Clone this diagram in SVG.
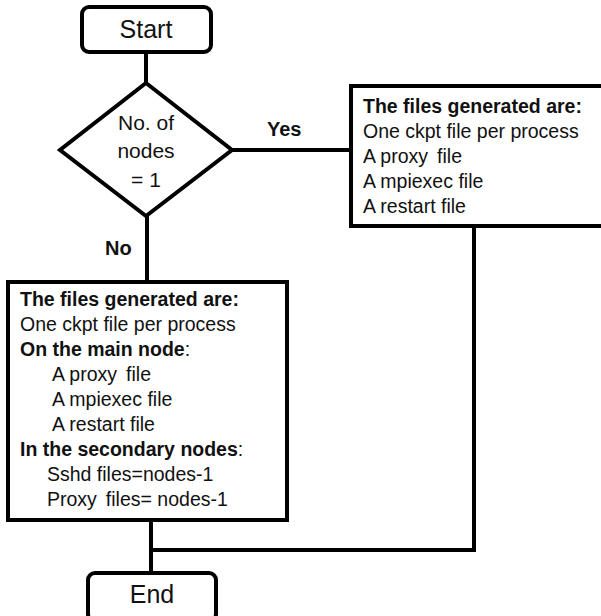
<svg xmlns="http://www.w3.org/2000/svg" width="601" height="616" viewBox="0 0 601 616">
<style>
.s{fill:#fff;stroke:#000;stroke-width:4}
.c{fill:none;stroke:#000;stroke-width:4}
text{font-family:"Liberation Sans",Arial,sans-serif;fill:#111}
.t{font-size:19.5px}
.b{font-weight:bold}
.d{font-size:21px;text-anchor:middle}
</style>
<rect width="601" height="616" fill="#fff"/>
<g id="connectors">
<line class="c" x1="146" y1="52" x2="146" y2="84"/>
<line class="c" x1="232" y1="150" x2="351" y2="150"/>
<line class="c" x1="147" y1="216" x2="147" y2="282"/>
<polyline class="c" points="474,226 474,550 151,550"/>
<line class="c" x1="151" y1="520" x2="151" y2="573"/>
<text class="b" x="267" y="136" style="font-size:20px">Yes</text>
<text class="b" x="105" y="255" style="font-size:20px">No</text>
</g>
<g id="start">
<rect class="s" x="82" y="7" width="129" height="45" rx="7"/>
<text x="146" y="38" style="font-size:25px" text-anchor="middle">Start</text>
</g>
<g id="decision">
<polygon class="s" points="146,83 232,150 146,216 60,150"/>
<text class="d" x="146" y="130">No. of</text>
<text class="d" x="146" y="158">nodes</text>
<text class="d" x="146" y="187">= 1</text>
</g>
<g id="yes-box">
<rect class="s" x="351" y="86" width="260" height="140"/>
<text class="t b" x="363" y="113">The files generated are:</text>
<text class="t" x="363" y="138">One ckpt file per process</text>
<text class="t" x="363" y="163">A proxy<tspan dx="9">file</tspan></text>
<text class="t" x="363" y="188">A mpiexec file</text>
<text class="t" x="363" y="213">A restart file</text>
</g>
<g id="no-box">
<rect class="s" x="8" y="282" width="279" height="238"/>
<text class="t b" x="20" y="306">The files generated are:</text>
<text class="t" x="20" y="331">One ckpt file per process</text>
<text class="t" x="20" y="356"><tspan class="b">On the main node</tspan>:</text>
<text class="t" x="52" y="381">A proxy<tspan dx="9">file</tspan></text>
<text class="t" x="52" y="406">A mpiexec file</text>
<text class="t" x="52" y="431">A restart file</text>
<text class="t" x="20" y="456"><tspan class="b">In the secondary nodes</tspan>:</text>
<text class="t" x="47" y="481">Sshd files=nodes-1</text>
<text class="t" x="47" y="506">Proxy<tspan dx="9">files= nodes-1</tspan></text>
</g>
<g id="end">
<rect class="s" x="88" y="573" width="128" height="48" rx="7"/>
<text x="152" y="603" style="font-size:25px" text-anchor="middle">End</text>
</g>
</svg>
